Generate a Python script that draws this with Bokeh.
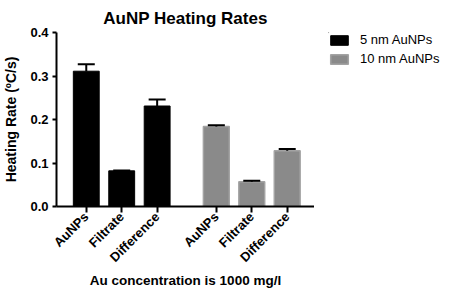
from bokeh.plotting import figure
from bokeh.models import FixedTicker, Legend, LegendItem, Range1d, PrintfTickFormatter
from bokeh.layouts import row
from bokeh.embed import file_html
from bokeh.resources import INLINE

# Data
categories = ["AuNPs", "Filtrate", "Difference"]
series_names = ["5 nm AuNPs", "10 nm AuNPs"]
rates_5nm = [0.311, 0.082, 0.231]
err_5nm = [0.016, 0.001, 0.015]
rates_10nm = [0.184, 0.057, 0.128]
err_10nm = [0.003, 0.002, 0.004]
y_ticks = [0.0, 0.1, 0.2, 0.3, 0.4]

FONT = "Liberation Sans"
BLACK = "black"
GRAY_FILL = "#8a8a8a"
GRAY_LINE = "#a3a3a3"

pos_5 = [0, 1, 2]
pos_10 = [3.67, 4.67, 5.67]

p = figure(width=314, height=291, output_backend="svg", toolbar_location=None,
           x_range=Range1d(-0.84, 6.44), y_range=Range1d(0, 0.4),
           min_border_left=54, min_border_right=0, min_border_top=32, min_border_bottom=85,
           title="AuNP Heating Rates")
p.outline_line_color = None
p.xgrid.visible = False
p.ygrid.visible = False
p.background_fill_color = "white"
p.border_fill_color = "white"

p.title.align = "center"
p.title.text_font = FONT
p.title.text_font_size = "17px"
p.title.text_font_style = "bold"
p.title.text_color = "black"

w = 0.73
p.vbar(x=pos_5, top=rates_5nm, width=w, fill_color=BLACK, line_color=BLACK)
p.vbar(x=pos_10, top=rates_10nm, width=w, fill_color=GRAY_FILL, line_color=GRAY_LINE, line_width=1.5)

cap = 0.24
for xs, vals, errs in ((pos_5, rates_5nm, err_5nm), (pos_10, rates_10nm, err_10nm)):
    tops = [v + e for v, e in zip(vals, errs)]
    p.segment(x0=xs, y0=vals, x1=xs, y1=tops, line_color="black", line_width=2)
    p.segment(x0=[x - cap for x in xs], y0=tops, x1=[x + cap for x in xs], y1=tops,
              line_color="black", line_width=2)

# axes
xa = p.xaxis[0]
xa.ticker = FixedTicker(ticks=pos_5 + pos_10)
xa.major_label_overrides = {x: c for x, c in zip(pos_5 + pos_10, categories + categories)}
xa.major_label_orientation = 0.785398
xa.axis_label = "Au concentration is 1000 mg/l"
xa.minor_tick_line_color = None
xa.major_tick_out = 6
xa.major_tick_in = 0

ya = p.yaxis[0]
ya.ticker = FixedTicker(ticks=y_ticks)
ya.formatter = PrintfTickFormatter(format="%.1f")
ya.axis_label = "Heating Rate (ºC/s)"
ya.minor_tick_line_color = None
ya.major_tick_out = 4
ya.major_tick_in = 0

for ax in (xa, ya):
    ax.axis_line_width = 2
    ax.major_tick_line_width = 2
    ax.axis_line_color = "black"
    ax.major_tick_line_color = "black"
    ax.major_label_text_font = FONT
    ax.major_label_text_font_style = "bold"
    ax.major_label_text_color = "black"
    ax.axis_label_text_font = FONT
    ax.axis_label_text_font_style = "bold"
    ax.axis_label_text_color = "black"
xa.major_label_text_font_size = "13px"
ya.major_label_text_font_size = "13px"
ya.axis_label_text_font_size = "14px"
xa.axis_label_text_font_size = "13.5px"
ya.major_label_standoff = 4
ya.axis_label_standoff = 8
xa.major_label_standoff = 2
xa.axis_label_standoff = 0

# legend panel (proxy bars sit far outside its visible range)
lf = figure(width=136, height=291, output_backend="svg", toolbar_location=None,
            x_range=Range1d(0, 1), y_range=Range1d(0, 1),
            x_axis_location=None, y_axis_location=None,
            min_border_left=14, min_border_top=32, min_border_right=0, min_border_bottom=0)
lf.xgrid.visible = False
lf.ygrid.visible = False
lf.outline_line_color = None
lf.background_fill_color = "white"
lf.border_fill_color = "white"
lr1 = lf.vbar(x=[-50], bottom=[50], top=[50 + rates_5nm[0]], width=0.5,
              fill_color=BLACK, line_color=BLACK)
lr2 = lf.vbar(x=[-50], bottom=[50], top=[50 + rates_10nm[0]], width=0.5,
              fill_color=GRAY_FILL, line_color=GRAY_LINE, line_width=1.5)

legend = Legend(items=[LegendItem(label=series_names[0], renderers=[lr1]),
                       LegendItem(label=series_names[1], renderers=[lr2])],
                location="top_left")
legend.padding = 4
legend.margin = 0
legend.border_line_color = None
legend.background_fill_alpha = 0
legend.glyph_width = 22
legend.glyph_height = 12
legend.label_height = 12
legend.spacing = 4
legend.label_standoff = 10
legend.label_text_font = FONT
legend.label_text_font_size = "13px"
legend.label_text_color = "black"
lf.add_layout(legend, "center")

layout = row(p, lf)
layout.spacing = 0

open("out.html", "w").write(file_html(layout, INLINE))
